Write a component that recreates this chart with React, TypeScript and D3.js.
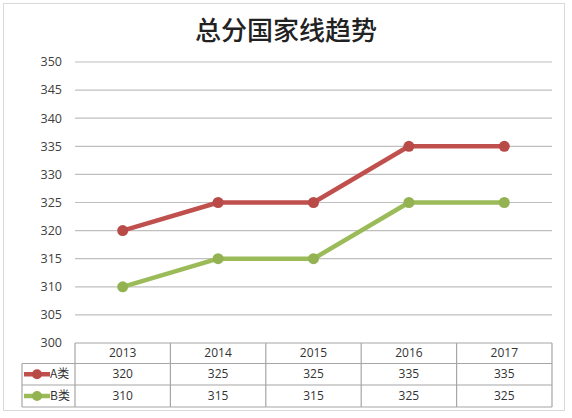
import React from "react";
import * as d3 from "d3";

const title = "总分国家线趋势";
const years = ["2013", "2014", "2015", "2016", "2017"];
const seriesNames = ["A类", "B类"];
const seriesA = [320, 325, 325, 335, 335];
const seriesB = [310, 315, 315, 325, 325];
const yTicks = [300, 305, 310, 315, 320, 325, 330, 335, 340, 345, 350];
const colors = ["#c0504d", "#9bbb59"];
const markerColors = ["#b84a47", "#93b352"];

export default function App() {
  const W = 572, H = 418;
  const left = 75, right = 552, top = 62, bottom = 343;
  const x = d3.scaleBand<string>().domain(years).range([left, right]);
  const y = d3.scaleLinear().domain([300, 350]).range([bottom, top]);
  const series = [seriesA, seriesB];
  const line = d3
    .line<number>()
    .x((_, i) => (x(years[i]) as number) + x.bandwidth() / 2)
    .y((d) => y(d));
  const rowY = [343, 363.5, 385, 407];
  const legendLeft = 22;
  const font = "'Open Sans','Noto Sans CJK SC',sans-serif";
  return (
    <svg width={W} height={H} style={{ position: "absolute", left: 0, top: 0 }} fontFamily={font}>
      <rect x={0} y={0} width={W} height={H} fill="#fff" />
      <rect x={3.5} y={3.5} width={561} height={407} fill="#fff" stroke="#d9d9d9" />
      <text x={286} y={40} textAnchor="middle" fontSize={26} fill="#222" fontFamily="'Noto Sans CJK SC',sans-serif" fontWeight={500}>
        {title}
      </text>
      {yTicks.map((t) => (
        <g key={t}>
          {t > 300 && <line x1={left} x2={right} y1={y(t)} y2={y(t)} stroke="#bfbfbf" strokeWidth={1.2} />}
          <text x={62} y={y(t)} dy="0.35em" textAnchor="end" fontSize={12.5} fill="#404040">
            {t}
          </text>
        </g>
      ))}
      {series.map((s, k) => (
        <g key={k}>
          <path d={line(s) || ""} fill="none" stroke={colors[k]} strokeWidth={4.5} strokeLinejoin="round" />
          {s.map((v, i) => (
            <circle key={i} cx={(x(years[i]) as number) + x.bandwidth() / 2} cy={y(v)} r={5.5} fill={markerColors[k]} />
          ))}
        </g>
      ))}
      {/* table */}
      <g stroke="#a6a6a6" strokeWidth={1.2} fill="none">
        <line x1={left} x2={right} y1={rowY[0]} y2={rowY[0]} />
        <line x1={legendLeft} x2={right} y1={rowY[1]} y2={rowY[1]} />
        <line x1={legendLeft} x2={right} y1={rowY[2]} y2={rowY[2]} />
        <line x1={legendLeft} x2={right} y1={rowY[3]} y2={rowY[3]} />
        <line x1={legendLeft} x2={legendLeft} y1={rowY[1]} y2={rowY[3]} />
        {years.map((yr) => (
          <line key={yr} x1={x(yr) as number} x2={x(yr) as number} y1={rowY[0]} y2={rowY[3]} />
        ))}
        <line x1={right} x2={right} y1={rowY[0]} y2={rowY[3]} />
      </g>
      {years.map((yr) => (
        <text key={yr} x={(x(yr) as number) + x.bandwidth() / 2} y={(rowY[0] + rowY[1]) / 2} dy="0.35em" textAnchor="middle" fontSize={12} fill="#333">
          {yr}
        </text>
      ))}
      {series.map((s, k) => (
        <g key={k}>
          <line x1={legendLeft + 2} x2={legendLeft + 28} y1={(rowY[k + 1] + rowY[k + 2]) / 2} y2={(rowY[k + 1] + rowY[k + 2]) / 2} stroke={colors[k]} strokeWidth={4.5} />
          <circle cx={legendLeft + 15} cy={(rowY[k + 1] + rowY[k + 2]) / 2} r={5} fill={markerColors[k]} />
          <text x={legendLeft + 28} y={(rowY[k + 1] + rowY[k + 2]) / 2} dy="0.35em" fontSize={12} fill="#333" fontFamily="'Noto Sans CJK SC',sans-serif">
            {seriesNames[k]}
          </text>
          {s.map((v, i) => (
            <text key={i} x={(x(years[i]) as number) + x.bandwidth() / 2} y={(rowY[k + 1] + rowY[k + 2]) / 2} dy="0.35em" textAnchor="middle" fontSize={12} fill="#333">
              {v}
            </text>
          ))}
        </g>
      ))}
    </svg>
  );
}
